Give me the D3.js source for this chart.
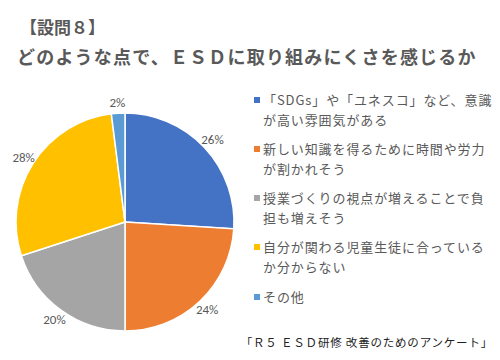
<!DOCTYPE html>
<html><head><meta charset="utf-8">
<script src="https://cdn.jsdelivr.net/npm/d3@7/dist/d3.min.js"></script>
<style>body{margin:0;background:#fff}svg{display:block}</style>
</head><body>
<script>
const categories = ["「SDGs」や「ユネスコ」など、意識が高い雰囲気がある","新しい知識を得るために時間や労力が割かれそう","授業づくりの視点が増えることで負担も増えそう","自分が関わる児童生徒に合っているか分からない","その他"];
const legendLines = [["「SDGs」や「ユネスコ」など、意識","が高い雰囲気がある"],["新しい知識を得るために時間や労力","が割かれそう"],["授業づくりの視点が増えることで負","担も増えそう"],["自分が関わる児童生徒に合っている","か分からない"],["その他"]];
const values = [26, 24, 20, 28, 2];
const colors = ["#4472C4","#ED7D31","#A5A5A5","#FFC000","#5B9BD5"];
const titleLines = ["【設問８】","どのような点で、ＥＳＤに取り組みにくさを感じるか"];
const footer = "「Ｒ５ ＥＳＤ研修 改善のためのアンケート」";

const W=500,H=360;
const svg=d3.select("body").append("svg").attr("width",W).attr("height",H)
  .style("font-family","'Noto Sans CJK JP','Noto Sans',sans-serif");

svg.append("text").attr("x",20).attr("y",34).attr("font-size",17).attr("font-weight","bold")
  .attr("fill","#595959").text(titleLines[0]);
svg.append("text").attr("x",17).attr("y",64).attr("font-size",18).attr("font-weight","bold")
  .attr("letter-spacing",1.2).attr("fill","#595959").text(titleLines[1]);

const cx=125, cy=222, r=109;
const pie=d3.pie().sort(null).value(d=>d);
const arcs=pie(values);
const arc=d3.arc().innerRadius(0).outerRadius(r);
const labelArc=d3.arc().innerRadius(120).outerRadius(120);
const g=svg.append("g").attr("transform",`translate(${cx},${cy})`);
g.selectAll("path").data(arcs).join("path").attr("d",arc)
  .attr("fill",(d,i)=>colors[i]).attr("stroke","#fff").attr("stroke-width",1.5);
g.selectAll("text").data(arcs).join("text")
  .attr("transform",d=>`translate(${labelArc.centroid(d)})`)
  .attr("text-anchor","middle").attr("dy","0.35em")
  .attr("font-size",13).attr("fill","#595959")
  .attr("font-family","Calibri,'Liberation Sans',sans-serif")
  .text(d=>d.data+"%");

const ly=[100,149,198,247,297];
const lg=svg.append("g");
legendLines.forEach((lines,i)=>{
  lg.append("rect").attr("x",254).attr("y",ly[i]-3).attr("width",6).attr("height",6).attr("fill",colors[i]);
  lines.forEach((t,j)=>{
    lg.append("text").attr("x",263).attr("y",ly[i]+j*20).attr("dy","0.36em")
      .attr("font-size",13).attr("letter-spacing",0.9).attr("fill","#595959").text(t);
  });
});

svg.append("text").attr("x",493).attr("y",347).attr("text-anchor","end")
  .attr("font-size",11.5).attr("letter-spacing",0.8).attr("fill","#222").text(footer);
</script>
</body></html>
